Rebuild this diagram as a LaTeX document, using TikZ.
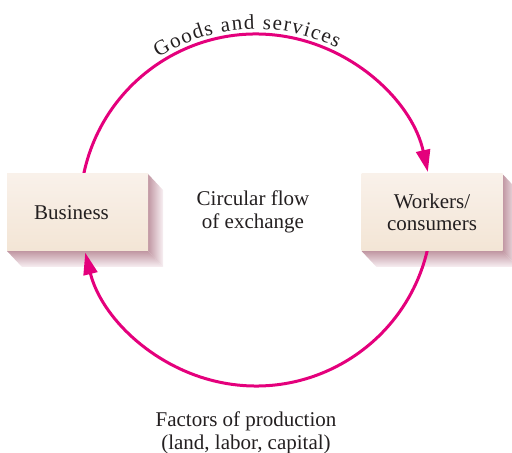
\documentclass[tikz,border=0pt]{standalone}
\usepackage{fontspec}
\setmainfont{Liberation Serif}
\usetikzlibrary{arrows.meta, decorations.text, calc}

\definecolor{cFlow}{RGB}{228,0,124}
\definecolor{cText}{RGB}{35,31,32}
\definecolor{cBoxTop}{RGB}{249,241,234}
\definecolor{cBoxBot}{RGB}{243,229,213}
\definecolor{cShade}{RGB}{192,150,162}
\definecolor{cShadeEnd}{RGB}{248,240,243}

\begin{document}
\begin{tikzpicture}[
  x=0.5pt, y=0.5pt,
  font=\fontsize{10.5}{11.2}\selectfont,
  text=cText,
  box/.style={
    minimum width=70.5pt, minimum height=38.5pt, inner sep=0pt,
    top color=cBoxTop, bottom color=cBoxBot, align=center
  },
  flowline/.style={
    draw=cFlow, line width=1.5pt,
    -{Triangle[length=11pt, width=7pt]}
  }
]

  \useasboundingbox (0,0) rectangle (512,453);

  % centre of the flow circle
  \coordinate (ctr) at (256,243);

  % --- BOXES (placed first, drawn last) ---
  \path (77.5,240.5) coordinate (business-at);
  \path (432,240.5) coordinate (workers-at);

  % Shadows: right face and bottom face of each box
  \foreach \who in {business, workers} {
    \shade[left color=cShade, right color=cShadeEnd]
      ($(\who-at)+(70.5,38.5)$) -- ++(15,-16) -- ++(0,-77) -- ++(-15,16) -- cycle;
    \shade[top color=cShade, bottom color=cShadeEnd]
      ($(\who-at)+(-70.5,-38.5)$) -- ++(15,-16) -- ++(141,0) -- ++(-15,16) -- cycle;
  }

  % --- FLOW ARCS ---
  \path (ctr) ++(168.3:176) coordinate (goods-from);
  \path (ctr) ++(-13.4:176) coordinate (factors-from);

  % Goods and services: business -> workers
  \draw[flowline] (goods-from) arc[start angle=168.3, end angle=12.5, radius=176];

  % Factors of production: workers -> business
  \draw[flowline] (factors-from) arc[start angle=-13.4, end angle=-166, radius=176];

  % Boxes on top of the arcs
  \node[box] (business) at (business-at) {Business\hspace{6pt}};
  \node[box] (workers) at (workers-at) {Workers/\\consumers};

  % --- LABELS ---
  \node[align=center] (flow) at (253,241) {Circular flow\\of exchange};

  \path[decorate, decoration={text effects along path,
      text={Goods and services}, text align=center,
      text effects/.cd, text along path,
      characters={inner xsep=0.35pt, anchor=base},
      character widths={inner xsep=0.35pt}}]
    (ctr) ++(150:181) arc[start angle=150, end angle=36, radius=181];

  \node[align=center] (factors) at (246,20) {Factors of production\\(land, labor, capital)};

\end{tikzpicture}
\end{document}
